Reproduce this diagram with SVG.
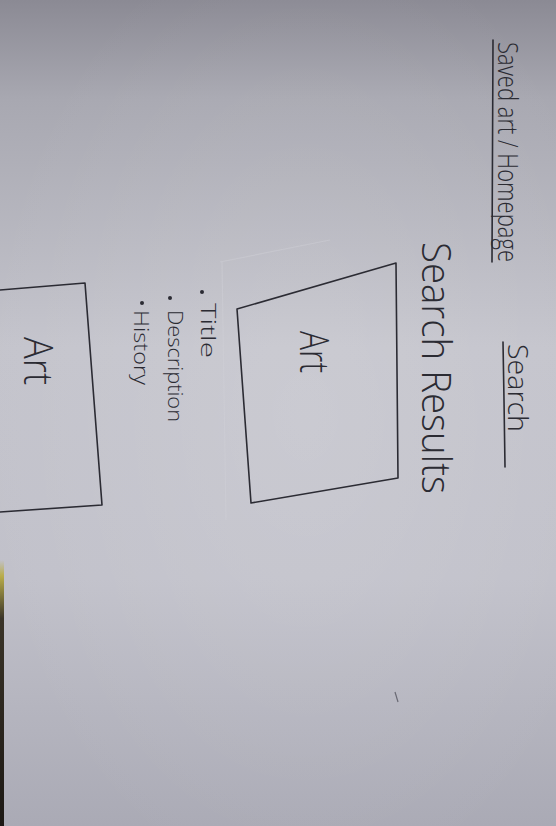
<svg xmlns="http://www.w3.org/2000/svg" width="556" height="826" viewBox="0 0 556 826">
  <defs>
    <linearGradient id="paper" x1="0" y1="0" x2="0" y2="1">
      <stop offset="0" stop-color="#8b8a94"/>
      <stop offset="0.12" stop-color="#a8a8b1"/>
      <stop offset="0.42" stop-color="#c4c4cc"/>
      <stop offset="0.7" stop-color="#c1c1ca"/>
      <stop offset="1" stop-color="#aaaab5"/>
    </linearGradient>
    <radialGradient id="glow" cx="0.55" cy="0.5" r="0.6">
      <stop offset="0" stop-color="#ffffff" stop-opacity="0.12"/>
      <stop offset="1" stop-color="#ffffff" stop-opacity="0"/>
    </radialGradient>
    <linearGradient id="edge" x1="0" y1="0" x2="0" y2="1">
      <stop offset="0" stop-color="#b9ad4a" stop-opacity="0"/>
      <stop offset="0.06" stop-color="#b9ad4a"/>
      <stop offset="0.22" stop-color="#3a3428"/>
      <stop offset="1" stop-color="#1c1814"/>
    </linearGradient>
  </defs>
  <style>
    .ink { fill: none; stroke: #2b2b33; stroke-width: 1.6; stroke-linecap: round; stroke-linejoin: round; }
    .faint { fill: none; stroke: #d0d0d8; stroke-width: 1.2; opacity: 0.45; }
    .hand { font-family: "Open Sans", "Lato", "DejaVu Sans", sans-serif; font-weight: 300; fill: #2b2b33; }
    .dot { fill: #2b2b33; }
  </style>

  <!-- paper -->
  <rect width="556" height="826" fill="url(#paper)"/>
  <rect width="556" height="826" fill="url(#glow)"/>
  <rect x="0" y="560" width="4" height="266" fill="url(#edge)"/>

  <!-- top navigation -->
  <g id="nav-home">
    <text class="hand" font-size="27" textLength="220" lengthAdjust="spacingAndGlyphs" transform="translate(498,42) rotate(90)">Saved art / Homepage</text>
    <path class="ink" d="M493,40 L492.5,150 L492,262"/>
  </g>
  <g id="nav-search">
    <text class="hand" font-size="27" textLength="88" lengthAdjust="spacingAndGlyphs" transform="translate(508,344) rotate(90)">Search</text>
    <path class="ink" d="M503,342 L504,400 L505,467"/>
  </g>

  <!-- heading -->
  <g id="heading">
    <text class="hand" font-size="40" textLength="252" lengthAdjust="spacingAndGlyphs" transform="translate(422,242) rotate(90)">Search Results</text>
  </g>

  <!-- first result card -->
  <g id="result-main">
    <path class="faint" d="M220,262 L330,240 M222,262 L226,520"/>
    <path class="ink" d="M237,309 L396,263 L398,478 L251,503 Z"/>
    <text class="hand" font-size="40" textLength="42" lengthAdjust="spacingAndGlyphs" transform="translate(300,331) rotate(90)">Art</text>
  </g>

  <!-- detail list -->
  <g id="details">
    <circle class="dot" cx="202" cy="292" r="2"/>
    <text class="hand" font-size="20" textLength="55" lengthAdjust="spacingAndGlyphs" transform="translate(201,303) rotate(90)">Title</text>
    <circle class="dot" cx="170" cy="298" r="2"/>
    <text class="hand" font-size="20" textLength="112" lengthAdjust="spacingAndGlyphs" transform="translate(168,310) rotate(90)">Description</text>
    <circle class="dot" cx="142" cy="303" r="2"/>
    <text class="hand" font-size="20" textLength="75" lengthAdjust="spacingAndGlyphs" transform="translate(134,310) rotate(90)">History</text>
  </g>

  <!-- second result card, running off the sheet -->
  <g id="result-second">
    <path class="ink" d="M0,290 L85,283 L102,505 L0,512"/>
    <text class="hand" font-size="40" textLength="48" lengthAdjust="spacingAndGlyphs" transform="translate(24,337) rotate(90)">Art</text>
  </g>

  <!-- stray pencil mark -->
  <path d="M395,692 L398,702" stroke="#6a6a74" stroke-width="1.2" fill="none"/>
</svg>
